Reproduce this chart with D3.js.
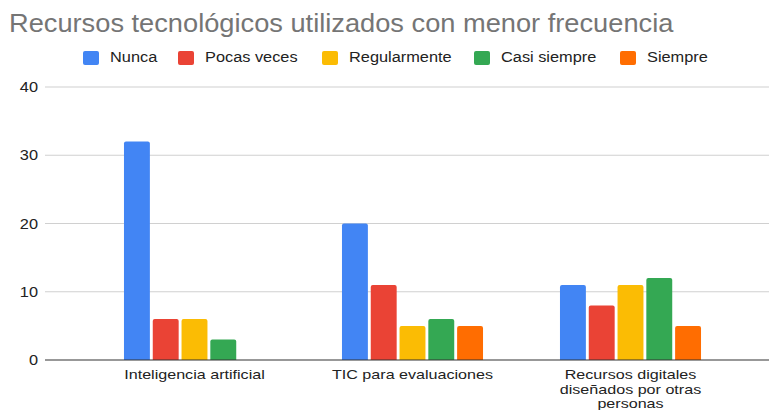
<!DOCTYPE html>
<html>
<head>
<meta charset="utf-8">
<script src="https://cdn.jsdelivr.net/npm/d3@7"></script>
<style>
  body { margin: 0; background: #fff; }
  text { font-family: "Liberation Sans", Arial, sans-serif; }
</style>
</head>
<body>
<script>
// data
var categories = ["Inteligencia artificial", "TIC para evaluaciones", "Recursos digitales diseñados por otras personas"];
var series = ["Nunca", "Pocas veces", "Regularmente", "Casi siempre", "Siempre"];
var nunca = [32, 20, 11];
var pocasVeces = [6, 11, 8];
var regularmente = [6, 5, 11];
var casiSiempre = [3, 6, 12];
var siempre = [0, 5, 5];
var yTicks = [0, 10, 20, 30, 40];
var colors = ["#4285f4", "#ea4335", "#fbbc04", "#34a853", "#ff6d01"];

var values = [nunca, pocasVeces, regularmente, casiSiempre, siempre];
var rows = [];
categories.forEach(function(c, i) {
  series.forEach(function(s, j) {
    rows.push({ cat: c, ser: s, val: values[j][i], color: colors[j] });
  });
});

var svgWidth = 771, svgHeight = 410;
var svg = d3.select("body").append("svg")
  .attr("width", svgWidth)
  .attr("height", svgHeight);

// the reference picture is a bit wider than tall, so text gets a small x stretch
function place(sel, x, y, sx) {
  return sel.attr("transform", `translate(${x},${y}) scale(${sx || 1.09},1)`);
}

// title
place(svg.append("text"), 9, 32)
  .attr("fill", "#757575")
  .style("font-size", "25px")
  .text("Recursos tecnológicos utilizados con menor frecuencia");

// legend
var legendX = [83, 178, 322, 474, 620];
var legend = svg.append("g");
series.forEach(function(s, j) {
  legend.append("rect")
    .attr("x", legendX[j]).attr("y", 51)
    .attr("width", 16).attr("height", 14)
    .attr("rx", 2)
    .attr("fill", colors[j]);
  place(legend.append("text"), legendX[j] + 27, 62)
    .attr("fill", "#222")
    .style("font-size", "15px")
    .text(s);
});

// scales
var plotLeft = 45, plotRight = 769;
var x0 = d3.scaleBand()
  .domain(categories)
  .range([85.5, 739.5])
  .paddingInner(0.353)
  .paddingOuter(0.1765);

var x1 = d3.scaleBand()
  .domain(series)
  .range([0, x0.bandwidth()])
  .paddingInner(0.1);

var y = d3.scaleLinear()
  .domain([0, 40])
  .range([360, 87]);

// gridlines
svg.append("g").selectAll("line")
  .data(yTicks.filter(d => d > 0))
  .enter().append("line")
  .attr("x1", plotLeft).attr("x2", plotRight)
  .attr("y1", d => y(d)).attr("y2", d => y(d))
  .attr("stroke", "#d0d0d0")
  .attr("stroke-width", 1.2);

// y tick labels
var yLab = svg.append("g");
yTicks.forEach(function(t) {
  place(yLab.append("text"), 38, y(t) + 5)
    .attr("text-anchor", "end")
    .attr("fill", "#222")
    .style("font-size", "15px")
    .text(t);
});

// bars
function barPath(x, yTop, w, h) {
  var r = Math.min(2, h / 2);
  return `M${x},${yTop + h} V${yTop + r} Q${x},${yTop} ${x + r},${yTop} H${x + w - r} Q${x + w},${yTop} ${x + w},${yTop + r} V${yTop + h} Z`;
}
svg.append("g").selectAll("path")
  .data(rows.filter(d => d.val > 0))
  .enter().append("path")
  .attr("d", d => {
    var bx = x0(d.cat) + x1(d.ser);
    var by = y(d.val);
    return barPath(bx, by, x1.bandwidth(), y(0) - by);
  })
  .attr("fill", d => d.color);

// baseline
svg.append("line")
  .attr("x1", plotLeft).attr("x2", plotRight)
  .attr("y1", y(0)).attr("y2", y(0))
  .attr("stroke", "#333")
  .attr("stroke-width", 1.2);

// category labels, wrapped like the reference
var labelLines = {
  "Inteligencia artificial": ["Inteligencia artificial"],
  "TIC para evaluaciones": ["TIC para evaluaciones"],
  "Recursos digitales diseñados por otras personas": ["Recursos digitales", "diseñados por otras", "personas"]
};
var xLabels = svg.append("g");
categories.forEach(function(c) {
  labelLines[c].forEach(function(line, k) {
    place(xLabels.append("text"), x0(c) + x0.bandwidth() / 2, 379 + k * 14.5, 1.24)
      .attr("text-anchor", "middle")
      .attr("fill", "#222")
      .style("font-size", "13px")
      .text(line);
  });
});
</script>
</body>
</html>
